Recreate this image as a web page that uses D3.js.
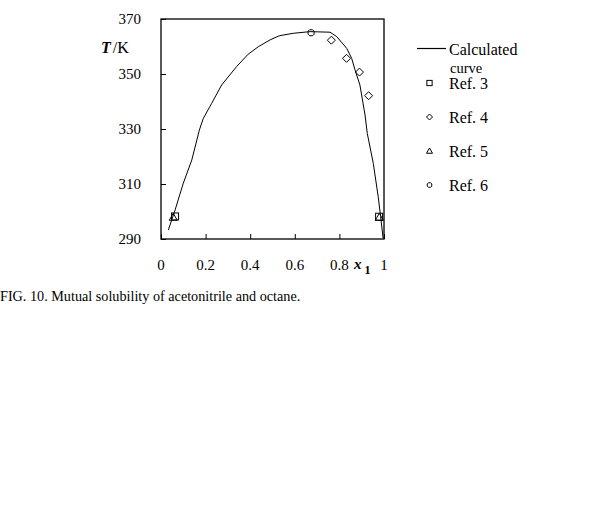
<!DOCTYPE html>
<html><head><meta charset="utf-8">
<script src="https://cdn.jsdelivr.net/npm/d3@7"></script>
<style>
body{margin:0;background:#fff;}
text{font-family:"Times New Roman","Liberation Serif",serif;fill:#000;}
</style></head>
<body><svg id="c" width="614" height="507"></svg>
<script>
// Calculated curve (x1, T/K)
const curveX = [0.033,0.063,0.100,0.138,0.172,0.190,0.227,0.272,0.339,0.391,0.436,0.489,0.530,0.593,0.668,0.758,0.788,0.833,0.855,0.870,0.892,0.915,0.925,0.952,0.974,0.985,0.996];
const curveT = [293.3,300.5,310.3,318.7,329.6,333.9,339.3,346.0,352.7,357.2,359.9,362.4,363.9,364.8,365.4,365.2,363.6,359.3,355.7,351.5,346.0,335.1,328.4,317.5,305.4,298.1,290.3];
// Experimental points
const ref3X = [0.063,0.978], ref3T = [298.2,298.1];
const ref4X = [0.764,0.832,0.890,0.931], ref4T = [362.3,355.7,350.7,342.1];
const ref5X = [0.055,0.979], ref5T = [297.9,297.9];
const ref6X = [0.673], ref6T = [365.0];
const xTicks = [0,0.2,0.4,0.6,0.8,1];
const xTickLabels = ["0","0.2","0.4","0.6","0.8","1"];
const yTicks = [290,310,330,350,370];
const legendLabels = ["Ref. 3","Ref. 4","Ref. 5","Ref. 6"];

const svg = d3.select("#c");
const L=161, R=384, T=19, B=239;
const x = d3.scaleLinear().domain([0,1]).range([L,R]);
const y = d3.scaleLinear().domain([290,370]).range([B,T]);

// frame
svg.append("rect").attr("x",L).attr("y",T).attr("width",R-L).attr("height",B-T)
  .attr("fill","none").attr("stroke","#000").attr("stroke-width",1.3);

// y axis ticks (inward)
const ya = svg.append("g").attr("transform",`translate(${L},0)`)
  .call(d3.axisRight(y).tickValues(yTicks).tickSize(5).tickFormat(""));
ya.select(".domain").remove();
ya.selectAll("line").attr("stroke","#000");
svg.selectAll(".ylab").data(yTicks).enter().append("text")
  .attr("x",141).attr("y",d=>y(d)+5).attr("text-anchor","end")
  .attr("font-size",15).text(d=>d);

// x axis ticks (inward)
const xa = svg.append("g").attr("transform",`translate(0,${B})`)
  .call(d3.axisTop(x).tickValues(xTicks).tickSize(5).tickFormat(""));
xa.select(".domain").remove();
xa.selectAll("line").attr("stroke","#000");
svg.selectAll(".xlab").data(xTicks).enter().append("text")
  .attr("x",d=>x(d)).attr("y",270).attr("text-anchor","middle")
  .attr("font-size",15).text((d,i)=>xTickLabels[i]);

// axis titles
const xt = svg.append("text").attr("x",354).attr("y",269).attr("font-size",15).attr("font-weight","bold");
xt.append("tspan").attr("font-style","italic").text("x");
xt.append("tspan").attr("dx",3).attr("dy",5).attr("font-size",12).text("1");
const yt = svg.append("text").attr("x",101).attr("y",53).attr("font-size",16);
yt.append("tspan").attr("font-style","italic").attr("font-weight","bold").text("T");
yt.append("tspan").attr("dx",2).text("/K");

// curve
const curveData = curveX.map((d,i)=>[d,curveT[i]]);
svg.append("path").datum(curveData)
  .attr("d",d3.line().x(d=>x(d[0])).y(d=>y(d[1])))
  .attr("fill","none").attr("stroke","#000").attr("stroke-width",1);

// marker shapes
function marker(g,type,cx,cy,s){
  s = s||1;
  if(type==="square") g.append("rect").attr("x",cx-3.5*s).attr("y",cy-3.5*s).attr("width",7*s).attr("height",7*s);
  else if(type==="diamond") g.append("path").attr("d",`M${cx},${cy-4*s}L${cx+4*s},${cy}L${cx},${cy+4*s}L${cx-4*s},${cy}Z`);
  else if(type==="triangle") g.append("path").attr("d",`M${cx},${cy-4*s}L${cx+4*s},${cy+3*s}L${cx-4*s},${cy+3*s}Z`);
  else if(type==="circle") g.append("path").attr("d",`M${cx-1.5*s},${cy-3*s}L${cx+1.5*s},${cy-3*s}L${cx+3*s},${cy-1.5*s}L${cx+3*s},${cy+1.5*s}L${cx+1.5*s},${cy+3*s}L${cx-1.5*s},${cy+3*s}L${cx-3*s},${cy+1.5*s}L${cx-3*s},${cy-1.5*s}Z`);
}
const mg = svg.append("g").attr("fill","#fff").attr("fill-opacity",0).attr("stroke","#000").attr("stroke-width",1);
ref3X.forEach((d,i)=>marker(mg,"square",x(d),y(ref3T[i])));
ref5X.forEach((d,i)=>marker(mg,"triangle",x(d),y(ref5T[i])));
ref4X.forEach((d,i)=>marker(mg,"diamond",x(d),y(ref4T[i])));
ref6X.forEach((d,i)=>marker(mg,"circle",x(d),y(ref6T[i])));

// legend
svg.append("line").attr("x1",417).attr("x2",446).attr("y1",48.5).attr("y2",48.5).attr("stroke","#000").attr("stroke-width",1.2);
svg.append("text").attr("x",449).attr("y",55).attr("font-size",16).text("Calculated");
svg.append("text").attr("x",450).attr("y",73).attr("font-size",14.5).text("curve");
const types = ["square","diamond","triangle","circle"];
const lg = svg.append("g").attr("fill","none").attr("stroke","#000").attr("stroke-width",1);
legendLabels.forEach((t,i)=>{
  const cy = 83 + i*34;
  marker(lg,types[i],429.5,cy,0.75);
  svg.append("text").attr("x",449).attr("y",cy+6).attr("font-size",16).text(t);
});

// caption
svg.append("text").attr("x",0).attr("y",301).attr("font-size",14.2)
  .text("FIG. 10. Mutual solubility of acetonitrile and octane.");
</script></body></html>
